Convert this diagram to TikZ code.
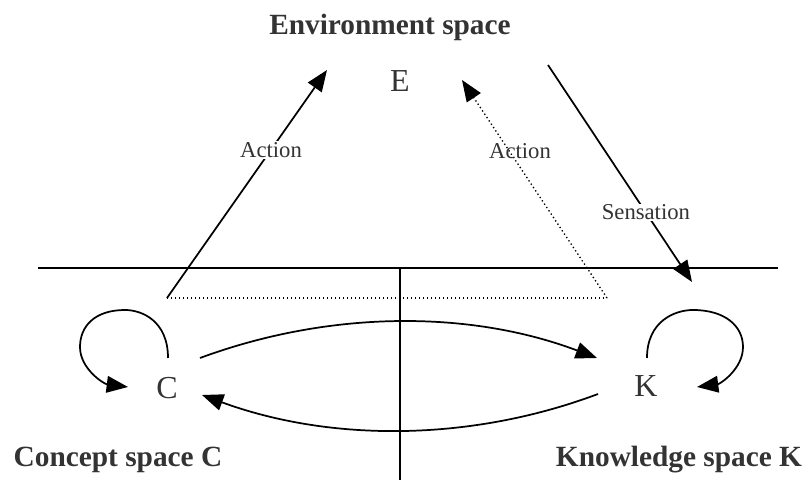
\documentclass[tikz,border=0pt]{standalone}
\usepackage{fontspec}
\setmainfont{Liberation Serif}
\usetikzlibrary{arrows.meta}
\tikzset{
	lbl/.style={text=black!80, inner sep=1pt, font=\fontsize{17}{20}\selectfont},
	letter/.style={text=black!80, inner sep=1pt, font=\fontsize{24}{28}\selectfont},
	ttl/.style={text=black!80, font=\bfseries\fontsize{22}{26}\selectfont},
	tip/.style={-{Triangle[length=16pt,width=12.5pt]}},
}

\begin{document}
\begin{tikzpicture}[x=0.75pt, y=0.75pt, line width=1.3pt]
		%%%%% START %%%%%
		\useasboundingbox (0, 0) rectangle (803, 491);
		
		\node[ttl] (envspace) at (390, 464) {Environment space};
		\node[ttl] (conspace) at (118, 31) {Concept space C};
		\node[ttl] (knowspace) at (679, 31) {Knowledge space K};
		
		\node[letter] (E) at (400, 410) {E};
		\node[letter] (C) at (167, 103) {C};
		\node[letter] (K) at (646, 105) {K};
		
		% the three spaces
		\coordinate (hl) at (38, 223);
		\coordinate (hr) at (778, 223);
		\coordinate (vt) at (400, 223);
		\coordinate (vb) at (400, 11);
		\draw (hl) -- (hr);
		\draw (vt) -- (vb);
		
		% actions
		\coordinate (actL) at (167, 193);
		\coordinate (actR) at (607, 193);
		\coordinate (actLtip) at (327, 421);
		\coordinate (actRtip) at (462, 411);
		\draw[tip] (actL) -- node[lbl, fill=white, pos=0.65] (action1) {Action} (actLtip);
		\draw[dotted, line width=1pt] (actL) -- (actR);
		\draw[dotted, line width=1pt, tip] (actR) -- (actRtip);
		\node[lbl] (action2) at (520, 340) {Action};
		
		% sensation
		\coordinate (sens) at (548, 426);
		\coordinate (senstip) at (692, 209);
		\draw[tip] (sens) -- node[lbl, fill=white, pos=0.68] (sensation) {Sensation} (senstip);
		
		% C <-> K
		\coordinate (cOut) at (200, 133);
		\coordinate (kIn) at (597, 133);
		\coordinate (kOut) at (598, 97);
		\coordinate (cIn) at (202, 96);
		\draw[tip] (cOut) .. controls (330, 181) and (470, 181) .. (kIn);
		\draw[tip] (kOut) .. controls (470, 49) and (330, 49) .. (cIn);
		
		% loops
		\coordinate (cLoop) at (168, 133);
		\coordinate (cLoopTip) at (128, 104);
		\draw[tip] (cLoop) .. controls (168, 170) and (142, 181) .. (125, 181)
			.. controls (95, 181) and (80, 165) .. (80, 144)
			.. controls (80, 122) and (104, 107) .. (cLoopTip);
		\coordinate (kLoop) at (647, 133);
		\coordinate (kLoopTip) at (697, 104);
		\draw[tip] (kLoop) .. controls (647, 170) and (675, 181) .. (693, 181)
			.. controls (725, 181) and (743, 165) .. (743, 144)
			.. controls (743, 122) and (720, 107) .. (kLoopTip);
		
		%%%%% END %%%%%
	\end{tikzpicture}
\end{document}
